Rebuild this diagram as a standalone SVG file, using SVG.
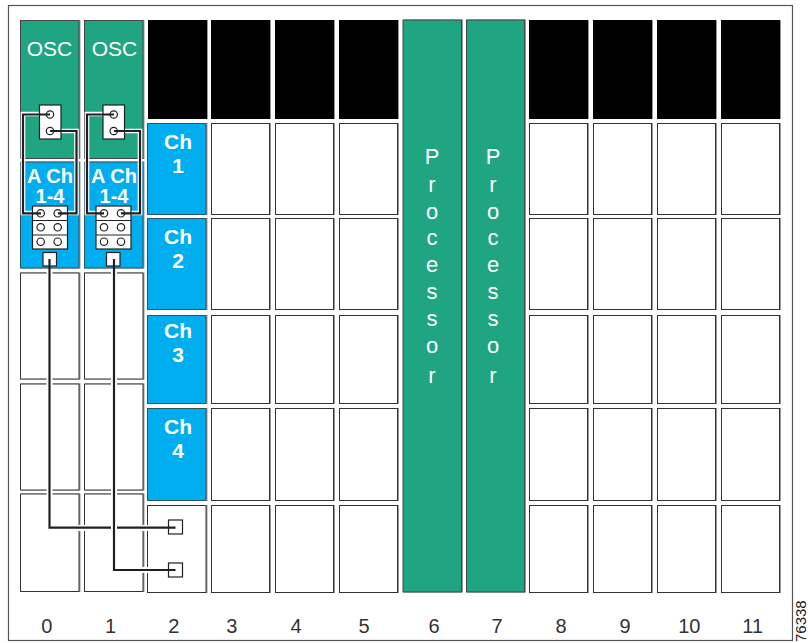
<svg xmlns="http://www.w3.org/2000/svg" width="808" height="643" viewBox="0 0 808 643">
<style>
text{font-family:"Liberation Sans",Arial,sans-serif}
.s{fill:#fff;stroke:#333;stroke-width:1}
.b{fill:#000}
.s,.b,.g,.c{filter:drop-shadow(1px 0.5px 0 #999)}
.g{fill:#1fa582;stroke:#444;stroke-width:1}
.c{fill:#00aeef;stroke:#2a5566;stroke-width:1}
.w{fill:none;stroke:#fff;stroke-width:4.6}
.k{fill:none;stroke:#231f20;stroke-width:2.2}
.p{fill:#fff;stroke:#231f20;stroke-width:1.2}
.o{fill:#fff;stroke:#231f20;stroke-width:1.2}
.l{font-size:20px;fill:#333;text-anchor:middle}
.t{font-size:22px;fill:#fff;text-anchor:middle}
.u{font-size:21px;fill:#fff;text-anchor:middle}
.h{font-size:21px;font-weight:bold;fill:#fff;text-anchor:middle}
.a{font-size:20px;font-weight:bold;fill:#fff;text-anchor:middle}
</style>
<rect x="8.5" y="5.5" width="784" height="635" fill="#fff" stroke="#555" stroke-width="1.2"/>
<g id="slots">
<rect class="s" x="20.5" y="273" width="58.5" height="106"/><rect class="s" x="20.5" y="384" width="58.5" height="106"/><rect class="s" x="20.5" y="494" width="58.5" height="97.5"/>
<rect class="s" x="84.5" y="273" width="58.5" height="106"/><rect class="s" x="84.5" y="384" width="58.5" height="106"/><rect class="s" x="84.5" y="494" width="58.5" height="97.5"/>
<rect class="s" x="147.5" y="505.5" width="58.5" height="87"/>
</g>
<g id="col2-top"><rect class="b" x="148" y="20" width="59" height="99"/></g>
<g id="col3"><rect class="b" x="211" y="20" width="59" height="99"/><rect class="s" x="211.5" y="123.5" width="58" height="91"/><rect class="s" x="211.5" y="218.5" width="58" height="91"/><rect class="s" x="211.5" y="315.5" width="58" height="88"/><rect class="s" x="211.5" y="408.5" width="58" height="92"/><rect class="s" x="211.5" y="505.5" width="58" height="87"/></g>
<g id="col4"><rect class="b" x="275" y="20" width="59" height="99"/><rect class="s" x="275.5" y="123.5" width="58" height="91"/><rect class="s" x="275.5" y="218.5" width="58" height="91"/><rect class="s" x="275.5" y="315.5" width="58" height="88"/><rect class="s" x="275.5" y="408.5" width="58" height="92"/><rect class="s" x="275.5" y="505.5" width="58" height="87"/></g>
<g id="col5"><rect class="b" x="339" y="20" width="59" height="99"/><rect class="s" x="339.5" y="123.5" width="58" height="91"/><rect class="s" x="339.5" y="218.5" width="58" height="91"/><rect class="s" x="339.5" y="315.5" width="58" height="88"/><rect class="s" x="339.5" y="408.5" width="58" height="92"/><rect class="s" x="339.5" y="505.5" width="58" height="87"/></g>
<g id="col8"><rect class="b" x="529" y="20" width="59" height="99"/><rect class="s" x="529.5" y="123.5" width="58" height="91"/><rect class="s" x="529.5" y="218.5" width="58" height="91"/><rect class="s" x="529.5" y="315.5" width="58" height="88"/><rect class="s" x="529.5" y="408.5" width="58" height="92"/><rect class="s" x="529.5" y="505.5" width="58" height="87"/></g>
<g id="col9"><rect class="b" x="593" y="20" width="59" height="99"/><rect class="s" x="593.5" y="123.5" width="58" height="91"/><rect class="s" x="593.5" y="218.5" width="58" height="91"/><rect class="s" x="593.5" y="315.5" width="58" height="88"/><rect class="s" x="593.5" y="408.5" width="58" height="92"/><rect class="s" x="593.5" y="505.5" width="58" height="87"/></g>
<g id="col10"><rect class="b" x="657" y="20" width="59" height="99"/><rect class="s" x="657.5" y="123.5" width="58" height="91"/><rect class="s" x="657.5" y="218.5" width="58" height="91"/><rect class="s" x="657.5" y="315.5" width="58" height="88"/><rect class="s" x="657.5" y="408.5" width="58" height="92"/><rect class="s" x="657.5" y="505.5" width="58" height="87"/></g>
<g id="col11"><rect class="b" x="721" y="20" width="59" height="99"/><rect class="s" x="721.5" y="123.5" width="58" height="91"/><rect class="s" x="721.5" y="218.5" width="58" height="91"/><rect class="s" x="721.5" y="315.5" width="58" height="88"/><rect class="s" x="721.5" y="408.5" width="58" height="92"/><rect class="s" x="721.5" y="505.5" width="58" height="87"/></g>
<g id="ch1"><rect class="c" x="147.5" y="123.5" width="58.5" height="91"/><text class="h" x="178" y="149">Ch</text><text class="h" x="178" y="173">1</text></g>
<g id="ch2"><rect class="c" x="147.5" y="218.5" width="58.5" height="91"/><text class="h" x="178" y="244">Ch</text><text class="h" x="178" y="268">2</text></g>
<g id="ch3"><rect class="c" x="147.5" y="315.5" width="58.5" height="88"/><text class="h" x="178" y="338">Ch</text><text class="h" x="178" y="362">3</text></g>
<g id="ch4"><rect class="c" x="147.5" y="408.5" width="58.5" height="92"/><text class="h" x="178" y="434">Ch</text><text class="h" x="178" y="458">4</text></g>
<g id="proc6"><rect class="g" x="403" y="20" width="58.5" height="572"/>
<text class="t" x="432" y="164">P</text><text class="t" x="432" y="192">r</text><text class="t" x="432" y="219">o</text><text class="t" x="432" y="245">c</text><text class="t" x="432" y="272">e</text><text class="t" x="432" y="299">s</text><text class="t" x="432" y="326">s</text><text class="t" x="432" y="353">o</text><text class="t" x="432" y="383">r</text></g>
<g id="proc7"><rect class="g" x="466.5" y="20" width="58" height="572"/>
<text class="t" x="493" y="164">P</text><text class="t" x="493" y="192">r</text><text class="t" x="493" y="219">o</text><text class="t" x="493" y="245">c</text><text class="t" x="493" y="272">e</text><text class="t" x="493" y="299">s</text><text class="t" x="493" y="326">s</text><text class="t" x="493" y="353">o</text><text class="t" x="493" y="383">r</text></g>
<g id="osc0"><rect class="g" x="20.5" y="20.500" width="58.5" height="138"/><rect class="c" x="20.5" y="162" width="58.5" height="106"/><text class="u" x="49.5" y="56">OSC</text><text class="a" x="50" y="183">A Ch</text><text class="a" x="50" y="203">1-4</text></g>
<g id="osc1"><rect class="g" x="84.5" y="20.500" width="58.5" height="138"/><rect class="c" x="84.5" y="162" width="58.5" height="106"/><text class="u" x="114.5" y="56">OSC</text><text class="a" x="114" y="183">A Ch</text><text class="a" x="114" y="203">1-4</text></g>
<g id="halos">
<path class="w" d="M50 114H23V213H41M50 131H76.500V213H58"/>
<path class="w" d="M114 114H87V213H104M114 131H140V213H121"/>
</g>
<g id="pins0">
<rect class="p" x="39.500" y="105" width="21.500" height="34"/><circle class="o" cx="50" cy="114.500" r="3.700"/><circle class="o" cx="50" cy="131" r="3.700"/>
<rect class="p" x="32.500" y="206" width="35" height="43"/><path d="M32.500 220.500H67.500M32.500 235H67.500" stroke="#231f20" fill="none"/>
<circle class="o" cx="40.700" cy="213.300" r="3.700"/><circle class="o" cx="57.700" cy="213.300" r="3.700"/><circle class="o" cx="40.700" cy="227.300" r="3.700"/><circle class="o" cx="57.700" cy="227.300" r="3.700"/><circle class="o" cx="40.700" cy="241.700" r="3.700"/><circle class="o" cx="57.700" cy="241.700" r="3.700"/>
<rect class="p" x="43" y="252.500" width="13.500" height="13.500"/>
</g>
<g id="pins1">
<rect class="p" x="103" y="105" width="21.500" height="34"/><circle class="o" cx="113.700" cy="114.500" r="3.700"/><circle class="o" cx="113.700" cy="131" r="3.700"/>
<rect class="p" x="96" y="206" width="35" height="43"/><path d="M96 220.500H131M96 235H131" stroke="#231f20" fill="none"/>
<circle class="o" cx="104" cy="213.300" r="3.700"/><circle class="o" cx="121" cy="213.300" r="3.700"/><circle class="o" cx="104" cy="227.300" r="3.700"/><circle class="o" cx="121" cy="227.300" r="3.700"/><circle class="o" cx="104" cy="241.700" r="3.700"/><circle class="o" cx="121" cy="241.700" r="3.700"/>
<rect class="p" x="106.500" y="252.500" width="13.500" height="13.500"/>
</g>
<g id="port-a"><rect class="p" x="168.500" y="520" width="14" height="14"/></g>
<g id="port-b"><rect class="p" x="168.500" y="563" width="14" height="14"/></g>
<g id="connectors">
<path class="k" d="M50 114.500H23V213.300H41M50 131H76.500V213.300H58"/>
<path class="k" d="M114 114.500H87V213.300H104M114 131H140V213.300H121"/>
<path d="M49.500 272V528H166" fill="none" stroke="#fff" stroke-width="6"/>
<path class="k" d="M49.500 259V527.700H175.500"/>
<path d="M114 272V570H166" fill="none" stroke="#fff" stroke-width="6"/>
<path class="k" d="M114 259V570H175.500"/>
</g>
<g id="labels">
<text class="l" x="46.700" y="632.500">0</text><text class="l" x="110.500" y="632.500">1</text><text class="l" x="173.700" y="632.500">2</text><text class="l" x="231.700" y="632.500">3</text><text class="l" x="296" y="632.500">4</text><text class="l" x="364" y="632.500">5</text><text class="l" x="434" y="632.500">6</text><text class="l" x="497" y="632.500">7</text><text class="l" x="561" y="632.500">8</text><text class="l" x="625" y="632.500">9</text><text class="l" x="689.300" y="632.500">10</text><text class="l" x="752.700" y="632.500">11</text>
<text transform="translate(806 642) rotate(-90)" style="font-size:15px;fill:#222">76338</text>
</g>
</svg>
